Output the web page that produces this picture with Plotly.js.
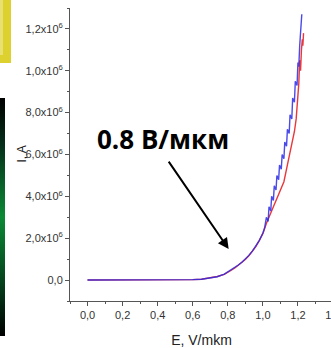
<!DOCTYPE html>
<html>
<head>
<meta charset="utf-8">
<script src="https://cdn.plot.ly/plotly-3.0.1.min.js"></script>
<style>
  html, body { margin: 0; padding: 0; width: 331px; height: 348px; overflow: hidden; background: #fff; }
  #chart { position: absolute; left: 0; top: 0; width: 345px; height: 348px; }
  .yellow { position: absolute; left: 0; top: 0; width: 11px; height: 63px; background: #dcd12e; }
  .yellow-in { position: absolute; left: 0; top: 0; width: 3px; height: 55px; background: #e8e070; }
  .green { position: absolute; left: 0; top: 98px; width: 5px; height: 238px;
           background: linear-gradient(to bottom, #000 0%, #05301a 20%, #0b8a35 50%, #05401c 78%, #000 100%); }
</style>
</head>
<body>
<div id="chart"></div>
<div class="yellow"></div><div class="yellow-in"></div>
<div class="green"></div>
<script>
// E, V/mkm
const blueE = [0, 0.1, 0.2, 0.3, 0.4, 0.5, 0.6, 0.65, 0.7, 0.74, 0.78, 0.8, 0.82, 0.84, 0.86, 0.88, 0.9, 0.92, 0.94, 0.96, 0.98, 1.0, 1.01, 1.02, 1.03, 1.035, 1.045, 1.05, 1.06, 1.065, 1.075, 1.08, 1.09, 1.095, 1.105, 1.11, 1.12, 1.125, 1.135, 1.14, 1.15, 1.155, 1.165, 1.17, 1.18, 1.185, 1.195, 1.2, 1.205, 1.21, 1.215, 1.222];
const blueI = [0, 0, 0, 0, 0, 0, 0.002, 0.004, 0.009, 0.016, 0.028, 0.038, 0.05, 0.06, 0.072, 0.085, 0.1, 0.118, 0.138, 0.162, 0.19, 0.225, 0.25, 0.30, 0.28, 0.35, 0.33, 0.40, 0.38, 0.45, 0.43, 0.50, 0.48, 0.55, 0.53, 0.60, 0.58, 0.66, 0.64, 0.72, 0.70, 0.79, 0.77, 0.87, 0.85, 0.95, 0.93, 1.04, 1.02, 1.12, 1.19, 1.27];
const redE = [0, 0.1, 0.2, 0.3, 0.4, 0.5, 0.6, 0.65, 0.7, 0.74, 0.78, 0.8, 0.82, 0.84, 0.86, 0.88, 0.9, 0.92, 0.94, 0.96, 0.98, 1.0, 1.02, 1.04, 1.06, 1.08, 1.1, 1.12, 1.14, 1.16, 1.18, 1.19, 1.2, 1.205, 1.21, 1.215, 1.22, 1.225, 1.228, 1.232];
const redI = [0, 0, 0, 0, 0, 0, 0.002, 0.004, 0.01, 0.017, 0.027, 0.036, 0.047, 0.058, 0.07, 0.083, 0.098, 0.116, 0.136, 0.16, 0.19, 0.222, 0.27, 0.315, 0.35, 0.39, 0.43, 0.47, 0.55, 0.63, 0.71, 0.77, 0.88, 0.94, 1.05, 1.0, 1.1, 1.15, 1.12, 1.18];

const xTickVals = [0, 0.2, 0.4, 0.6, 0.8, 1.0, 1.2, 1.4];
const xTickText = ['0,0', '0,2', '0,4', '0,6', '0,8', '1,0', '1,2', '1,4'];
const yTickVals = [0, 0.2, 0.4, 0.6, 0.8, 1.0, 1.2];
const yTickText = ['0,0', '2,0x10<sup>6</sup>', '4,0x10<sup>6</sup>', '6,0x10<sup>6</sup>', '8,0x10<sup>6</sup>', '1,0x10<sup>6</sup>', '1,2x10<sup>6</sup>'];

const narrow = 'Liberation Sans Narrow, Arial Narrow, sans-serif';
const tickFont = { family: narrow, size: 11, color: '#333' };

const traces = [
  { x: redE, y: redI, type: 'scatter', mode: 'lines', line: { color: '#e8383c', width: 1.4 }, hoverinfo: 'skip' },
  { x: blueE, y: blueI, type: 'scatter', mode: 'lines', line: { color: '#2a2ae6', width: 1.4 }, opacity: 0.85, hoverinfo: 'skip' }
];

const axisCommon = {
  showline: true, linecolor: '#555', linewidth: 1,
  ticks: 'outside', ticklen: 4, tickcolor: '#555', tickwidth: 1,
  showgrid: false, zeroline: false, tickfont: tickFont,
  minor: { ticks: 'outside', ticklen: 2, dtick: 0.1, tickcolor: '#555', showgrid: false }
};

const layout = {
  width: 345, height: 348,
  margin: { l: 70, r: 12, t: 8, b: 47 },
  paper_bgcolor: '#fff', plot_bgcolor: '#fff',
  showlegend: false,
  xaxis: Object.assign({}, axisCommon, {
    range: [-0.1, 1.4], tickmode: 'array', tickvals: xTickVals, ticktext: xTickText,
    title: { text: 'E, V/mkm', font: { family: narrow, size: 14, color: '#222' }, standoff: 14 }
  }),
  yaxis: Object.assign({}, axisCommon, {
    range: [-0.1, 1.3], tickmode: 'array', tickvals: yTickVals, ticktext: yTickText
  }),
  annotations: [
    { x: -0.186, y: 0.5, xref: 'paper', yref: 'paper', xanchor: 'center', yanchor: 'middle', showarrow: false,
      textangle: -90, text: 'I, A', font: { family: narrow, size: 12, color: '#222' } },
    { x: 0.043, y: 0.674, xref: 'x', yref: 'y', xanchor: 'left', yanchor: 'middle', showarrow: false,
      text: '<b>0.8 В/мкм</b>', font: { family: 'Open Sans, sans-serif', size: 26, color: '#000' } },
    { x: 0.805, y: 0.148, xref: 'x', yref: 'y', ax: -61, ay: -89, text: '', showarrow: true,
      arrowhead: 2, arrowsize: 1.1, arrowwidth: 2, arrowcolor: '#000' }
  ]
};

Plotly.newPlot('chart', traces, layout, { staticPlot: true, displayModeBar: false });
</script>
</body>
</html>
